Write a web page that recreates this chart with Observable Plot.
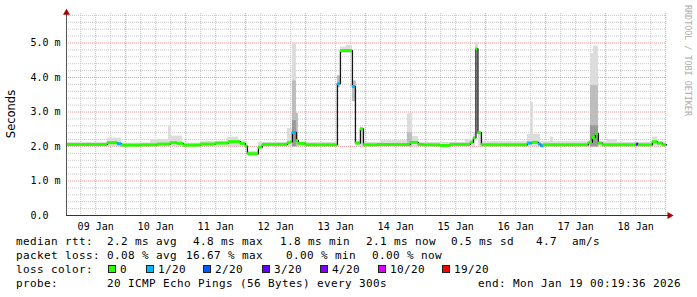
<!DOCTYPE html>
<html><head><meta charset="utf-8">
<script src="https://cdn.jsdelivr.net/npm/d3@7"></script>
<script src="https://cdn.jsdelivr.net/npm/@observablehq/plot@0.6"></script>
<style>
html,body{margin:0;padding:0;background:#fff;}
#chart{position:relative;width:697px;height:297px;overflow:hidden;}
</style></head><body><div id="chart"></div>
<script>
// Time axis in hours since 2026-01-09 00:00; window ends Mon Jan 19 00:19:36
const startHour = 0.3267;
const endHour = 240.3267;

// Median RTT (ms), step segments starting at these hours
const medianStart = [0.33,16.7,20.7,22.3,29.9,36.7,41.9,44.7,47.1,53.9,
  59.9,65.1,69.9,71.9,72.7,77.1,78.7,88.7,89.9,90.7,
  92.3,93.1,95.9,108.7,109.9,114.7,115.9,117.9,119.1,124.7,
  137.9,141.1,143.1,149.9,153.9,161.9,163.1,164.1,164.9,166.3,
  184.7,186.7,189.1,190.1,191.1,209.1,210.7,211.9,213.1,214.7,
  228.3,229.1,234.7,236.7,238.7];
const medianValue = [2.06,2.11,2.08,2.04,2.05,2.07,2.11,2.09,2.04,2.07,
  2.10,2.14,2.09,2.01,1.79,1.98,2.06,2.11,2.14,2.41,
  2.17,2.09,2.05,3.82,4.78,3.74,2.10,2.51,2.05,2.06,
  2.12,2.06,2.05,2.03,2.06,2.12,2.25,4.83,2.40,2.05,
  2.10,2.12,2.07,2.02,2.05,2.12,2.26,2.37,2.10,2.05,
  2.07,2.05,2.14,2.10,2.05];
// lost pings (of 20) per segment
const medianLoss = [0,0,1,0,0,0,0,0,0,0,
  0,0,0,0,0,0,0,0,0,1,
  0,0,0,1,0,1,0,0,0,0,
  0,0,0,0,0,0,0,0,0,0,
  1,0,1,1,0,0,0,0,0,0,
  3,0,0,0,0];

// Smoke (ping spread) bands
const smokeStart = [0.33,16.7,22.3,33.9,41.1,42.3,46.7,53.9,64.7,69.1,
  72.7,77.1,88.7,90.7,90.7,90.7,92.3,93.1,108.7,109.9,
  112.3,114.7,116.3,117.9,119.1,125.9,136.7,136.7,138.7,141.1,
  159.9,163.1,163.9,165.1,166.3,184.7,185.9,187.1,189.9,193.9,
  195.1,209.9,211.1,209.9,209.9,213.1,216.7,220.7,234.7,236.7];
const smokeEnd = [16.7,22.3,33.9,41.1,42.3,46.7,53.9,64.7,69.1,71.9,
  77.1,88.7,90.7,92.3,92.3,92.3,93.1,108.7,109.9,114.7,
  114.7,116.3,117.9,119.1,125.9,136.7,138.7,138.7,141.1,159.9,
  163.1,163.9,165.1,166.3,184.7,185.9,187.1,189.9,193.9,195.1,
  209.9,211.1,213.1,213.1,213.1,216.7,220.7,234.7,236.7,240.33];
const smokeLow = [1.99,1.99,1.99,1.99,1.99,1.99,1.99,1.99,1.99,1.99,
  1.74,1.99,1.99,1.99,1.99,1.99,1.99,1.99,3.70,4.70,
  4.70,3.30,1.99,1.99,1.99,1.99,1.99,1.99,1.99,1.99,
  1.99,1.99,4.75,1.99,1.99,1.99,1.99,1.99,1.99,1.99,
  1.99,1.99,1.99,1.99,1.99,1.99,1.99,1.99,1.99,1.99];
const smokeHigh = [2.12,2.24,2.10,2.20,2.60,2.30,2.10,2.15,2.27,2.16,
  1.86,2.12,2.52,5.00,3.90,2.75,2.96,2.12,4.05,4.88,
  4.93,3.90,2.15,2.56,2.12,2.17,2.95,2.40,2.29,2.12,
  2.20,2.41,5.02,2.45,2.14,2.35,3.28,2.35,2.14,2.27,
  2.14,4.69,4.91,3.77,2.60,2.14,2.20,2.12,2.27,2.12];
const smokeShade = [0,0,0,0,0,0,0,0,0,0,
  0,0,0,0,1,2,1,0,1,0,
  0,1,0,0,0,0,0,1,0,0,
  0,0,0,0,0,0,0,0,0,0,
  0,0,0,1,2,0,0,0,0,0];

// Axis ticks
const dayTickHours = [12,36,60,84,108,132,156,180,204,228];
const dayTickLabels = ["09 Jan","10 Jan","11 Jan","12 Jan","13 Jan","14 Jan","15 Jan","16 Jan","17 Jan","18 Jan"];
const yTickValues = [0,1,2,3,4,5];
const yTickLabels = ["0.0","1.0 m","2.0 m","3.0 m","4.0 m","5.0 m"];

// Loss colour legend
const lossLevels = [0,1,2,3,4,10,19];
const lossLabels = ["0","1/20","2/20","3/20","4/20","10/20","19/20"];
const lossColors = ["#26ff00","#00b8ff","#0059ff","#5e00ff","#7e00ff","#dd00ff","#ff0000"];

// Legend text
const statsRtt = ["median rtt:","2.2 ms avg","4.8 ms max","1.8 ms min","2.1 ms now","0.5 ms sd","4.7","am/s"];
const statsLoss = ["packet loss:","0.08 % avg","16.67 % max","0.00 % min","0.00 % now"];
const probeText = ["probe:","20 ICMP Echo Pings (56 Bytes) every 300s","end: Mon Jan 19 00:19:36 2026"];

const yMax = 5.855;
const segs = medianStart.map((s,i)=>({s, e: i+1<medianStart.length ? medianStart[i+1] : endHour, v: medianValue[i], loss: medianLoss[i]}));
const linePts = segs.map(d=>({h:d.s, v:d.v})).concat([{h:endHour, v:medianValue[medianValue.length-1]}]);
const smoke = smokeStart.map((s,i)=>({s, e: smokeEnd[i], lo: smokeLow[i], hi: smokeHigh[i], shade: smokeShade[i]}));
const shadeColors = ["#dcdcdc","#bdbdbd","#999999"];
const lossColor = l => lossColors[lossLevels.indexOf(l)];

const minorX = d3.range(6, 240, 6).filter(h => h % 24 !== 0);
const majorX = d3.range(24, 241, 24);
const minorY = d3.range(1, 30).map(i => i/5).filter(v => Math.abs(v - Math.round(v)) > 1e-6);
const majorY = [1,2,3,4,5];

const plot = Plot.plot({
  width: 697, height: 297,
  marginLeft: 66, marginRight: 31, marginTop: 13, marginBottom: 82,
  x: {domain: [startHour, endHour], axis: null},
  y: {domain: [0, yMax], axis: null},
  color: {type: "identity"},
  style: {fontFamily: "'DejaVu Sans Mono', monospace", fontSize: "10px", background: "#fff", overflow: "visible", color: "#000"},
  marks: [
    Plot.ruleX(minorX, {stroke: "#c6c6c6", strokeDasharray: "1,1"}),
    Plot.ruleY(minorY, {stroke: "#c6c6c6", strokeDasharray: "1,1"}),
    Plot.ruleX(majorX, {stroke: "#e89a9a", strokeDasharray: "1,1"}),
    Plot.ruleY(majorY, {stroke: "#e89a9a", strokeDasharray: "1,1"}),
    Plot.rect(smoke.filter(d=>d.shade===0), {x1:"s", x2:"e", y1:"lo", y2:"hi", fill: shadeColors[0]}),
    Plot.rect(smoke.filter(d=>d.shade===1), {x1:"s", x2:"e", y1:"lo", y2:"hi", fill: shadeColors[1]}),
    Plot.rect(smoke.filter(d=>d.shade===2), {x1:"s", x2:"e", y1:"lo", y2:"hi", fill: shadeColors[2]}),
    Plot.line(linePts, {x:"h", y:"v", curve:"step-after", stroke:"#151515", strokeWidth:1.3}),
    Plot.ruleY(segs, {y:"v", x1:"s", x2:"e", stroke: d => lossColor(d.loss), strokeWidth: 3}),
    Plot.axisY(yTickValues, {anchor:"left", label:null, tickSize:0, tickPadding:36, textAnchor:"start", tickFormat: d => yTickLabels[yTickValues.indexOf(d)]}),
    Plot.axisX(dayTickHours, {anchor:"bottom", label:null, tickSize:0, tickPadding:7, tickFormat: d => dayTickLabels[dayTickHours.indexOf(d)]}),
    Plot.ruleY([0], {x1: () => startHour, x2: () => endHour + 1.3, stroke: "#333"}),
    Plot.ruleX([startHour], {y1: () => 0, y2: () => yMax + 0.03, stroke: "#555"}),
    Plot.dot([0], {x: () => startHour, y: () => 5.875, symbol: "triangle", r: 2.6, fill: "#a80000", stroke: "none"}),
    Plot.dot([0], {x: () => endHour + 1.2, y: () => 0, symbol: "triangle", r: 2.6, fill: "#a80000", stroke: "none", rotate: 90})
  ]
});

const svg = d3.select(plot);
svg.append("text")
  .attr("transform", "translate(15,114) rotate(-90)")
  .attr("text-anchor", "middle")
  .attr("font-family", "'DejaVu Sans', sans-serif")
  .attr("font-size", 11.5)
  .attr("fill", "#000")
  .text("Seconds");
svg.append("text")
  .attr("transform", "translate(685,5) rotate(90)")
  .attr("text-anchor", "start")
  .attr("font-family", "'DejaVu Sans Mono', monospace")
  .attr("font-size", 8.4)
  .attr("fill", "#acacac")
  .text("RRDTOOL / TOBI OETIKER");

const lg = svg.append("g")
  .attr("text-anchor", "start")
  .attr("font-family", "'DejaVu Sans Mono', monospace")
  .attr("font-size", 11)
  .attr("letter-spacing", "0.38px")
  .attr("fill", "#000");
const put = (x, y, t) => lg.append("text").attr("x", x).attr("y", y).attr("text-anchor", "start").style("white-space", "pre").text(t);
const rttX = [16,107,193,280,366,451,536,572];
statsRtt.forEach((t,i) => put(rttX[i], 244.5, t));
const lossX = [16,107,186,286,372];
statsLoss.forEach((t,i) => put(lossX[i], 258.8, t));
put(16, 273, "loss color:");
const sqX = [108,146,203,262,320,378,442];
lossLabels.forEach((t,i) => {
  lg.append("rect").attr("x", sqX[i] + 0.5).attr("y", 265.5).attr("width", 7).attr("height", 7)
    .attr("fill", lossColors[i]).attr("stroke", "#222").attr("stroke-width", 1);
  put(sqX[i] + 12, 273, t);
});
const probeX = [16,107,478];
probeText.forEach((t,i) => put(probeX[i], 287.3, t));

document.getElementById("chart").appendChild(plot);
</script>
</body></html>
